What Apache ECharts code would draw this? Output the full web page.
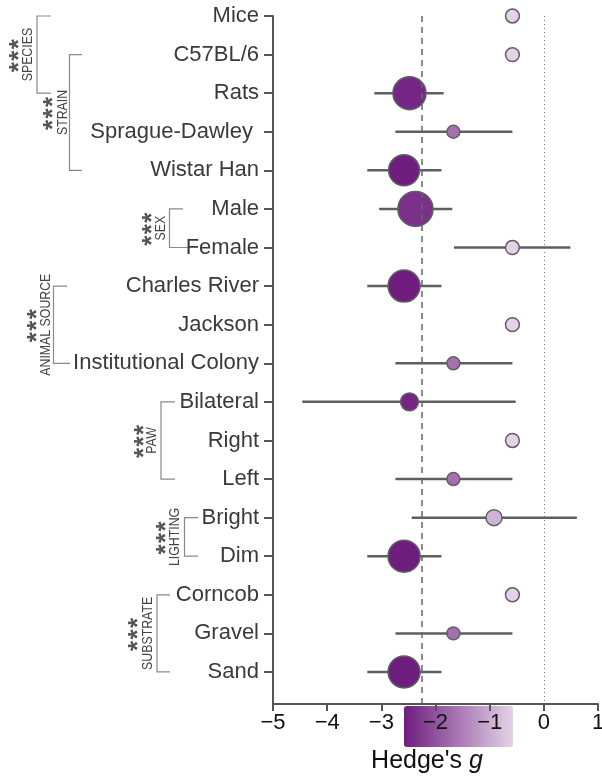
<!DOCTYPE html>
<html>
<head>
<meta charset="utf-8">
<script src="https://cdn.jsdelivr.net/npm/echarts@6/dist/echarts.min.js"></script>
<style>
html,body{margin:0;padding:0;background:#fff;}
#c{width:602px;height:781px;}
</style>
</head>
<body>
<div id="c"></div>
<script>
// ---- data ----
const categories = ['Mice','C57BL/6','Rats','Sprague\u2010Dawley\u00a0','Wistar Han','Male','Female','Charles River','Jackson','Institutional Colony','Bilateral','Right','Left','Bright','Dim','Corncob','Gravel','Sand'];
const effect = [-0.58,-0.58,-2.48,-1.67,-2.58,-2.37,-0.58,-2.58,-0.58,-1.67,-2.48,-0.58,-1.67,-0.92,-2.58,-0.58,-1.67,-2.58];
const ciLow  = [null,null,-3.13,-2.74,-3.26,-3.04,-1.66,-3.26,null,-2.74,-4.46,null,-2.74,-2.44,-3.26,null,-2.74,-3.26];
const ciHigh = [null,null,-1.85,-0.58,-1.89,-1.69,0.49,-1.89,null,-0.58,-0.52,null,-0.58,0.61,-1.89,null,-0.58,-1.89];
const weight = [12,12,68,10.5,60,77,12,64,12,10.5,20,12,10.5,16,64,12,10.5,64];
const xTicks = [-5,-4,-3,-2,-1,0,1];
const pooledEffect = -2.25;
const colorMin = -2.58, colorMax = -0.58;
const groups = [
  {name:'SPECIES', from:0, to:2, sig:'***'},
  {name:'STRAIN', from:1, to:4, sig:'***'},
  {name:'SEX', from:5, to:6, sig:'***'},
  {name:'ANIMAL SOURCE', from:7, to:9, sig:'***'},
  {name:'PAW', from:10, to:12, sig:'***'},
  {name:'LIGHTING', from:13, to:14, sig:'***'},
  {name:'SUBSTRATE', from:15, to:17, sig:'***'}
];
// ---- layout (pixel positions of bracket annotations) ----
const bracketLayout = [
  {vx:37,   armTop:51,  armBot:51,  tx:28,  sx:14},
  {vx:69.5, armTop:82,  armBot:82,  tx:63,  sx:48},
  {vx:169.5,armTop:183, armBot:188, tx:161, sx:147},
  {vx:53.5, armTop:67,  armBot:70,  tx:46,  sx:32},
  {vx:161,  armTop:175, armBot:175, tx:152, sx:139},
  {vx:184.5,armTop:198, armBot:198, tx:175, sx:161},
  {vx:157,  armTop:170, armBot:170, tx:148, sx:133}
];
const starShift = 6, starPitch = 11.5;

const FONT = '"Liberation Sans", Arial, Helvetica, sans-serif';
const chart = echarts.init(document.getElementById('c'), null, {renderer:'canvas'});
const idx = categories.map((_, i) => i);
const ciData = [];
ciLow.forEach((lo, i) => { if (lo !== null) ciData.push([lo, ciHigh[i], i]); });

chart.setOption({
  animation: false,
  grid: {left: 273, right: 4, top: 16, bottom: 77, containLabel: false, outerBoundsMode: 'none'},
  xAxis: {
    type: 'value', min: -5, max: 1, interval: 1, z: 10,
    axisLine: {show: true, onZero: false, lineStyle: {color: '#555', width: 2}},
    axisTick: {show: true, length: 7, lineStyle: {color: '#555', width: 2}},
    axisLabel: {margin: 8, fontSize: 22, fontFamily: FONT, color: '#111',
      formatter: v => v < 0 ? '\u2212' + Math.abs(v) : String(v)},
    splitLine: {show: false}
  },
  yAxis: {
    type: 'value', inverse: true, min: 0, max: 17.83,
    axisLine: {show: true, onZero: false, lineStyle: {color: '#555', width: 2}},
    axisTick: {show: true, length: 9, customValues: idx, lineStyle: {color: '#555', width: 2}},
    axisLabel: {margin: 14, fontSize: 22, fontFamily: FONT, color: '#3a3a3a',
      customValues: idx, formatter: v => categories[Math.round(v)]},
    splitLine: {show: false}
  },
  visualMap: {
    type: 'continuous', min: colorMin, max: colorMax, dimension: 0, seriesIndex: 1,
    inRange: {color: ['#6f1d7f', '#e4d3e8']},
    orient: 'horizontal', left: 404, top: 706, itemWidth: 41, itemHeight: 109,
    calculable: false, padding: 0, z: 1, hoverLink: false
  },
  series: [
    {
      type: 'custom', z: 2,
      data: ciData,
      encode: {x: [0, 1], y: 2},
      renderItem: (params, api) => {
        const p1 = api.coord([api.value(0), api.value(2)]);
        const p2 = api.coord([api.value(1), api.value(2)]);
        return {type: 'line', shape: {x1: p1[0], y1: p1[1], x2: p2[0], y2: p2[1]},
          style: {stroke: '#5d5e60', lineWidth: 2.5}};
      },
      markLine: {
        silent: true, symbol: 'none', label: {show: false},
        data: [
          {xAxis: pooledEffect, lineStyle: {color: '#666', width: 1.5, type: [6, 5]}},
          {xAxis: 0, lineStyle: {color: '#777', width: 1, type: [1, 3]}}
        ]
      }
    },
    {
      type: 'scatter', z: 3,
      data: effect.map((g, i) => [g, i, weight[i]]),
      symbolSize: v => 4 * Math.sqrt(v[2]),
      itemStyle: {opacity: 1, borderColor: '#5f6062', borderWidth: 1.5}
    }
  ]
});

// bracket annotations
const gfx = [];
groups.forEach((g, k) => {
  const L = bracketLayout[k];
  const y1 = chart.convertToPixel({yAxisIndex: 0}, g.from);
  const y2 = chart.convertToPixel({yAxisIndex: 0}, g.to);
  const ym = (y1 + y2) / 2;
  gfx.push({type: 'polyline', silent: true,
    shape: {points: [[L.armTop, y1], [L.vx, y1], [L.vx, y2], [L.armBot, y2]]},
    style: {stroke: '#8a8a8a', lineWidth: 1.2, fill: null}});
  gfx.push({type: 'text', silent: true, x: L.tx, y: ym, rotation: Math.PI / 2, scaleX: 0.88,
    style: {text: g.name, font: '14px ' + FONT, fill: '#444', align: 'center', verticalAlign: 'middle'}});
  const stars = g.sig.split('');
  stars.forEach((s, j) => {
    gfx.push({type: 'text', silent: true, x: L.sx + starShift,
      y: ym + 1 + (stars.length - 1 - j - (stars.length - 1) / 2) * starPitch, rotation: Math.PI / 2,
      style: {text: s, font: 'bold 26px ' + FONT, fill: '#555', align: 'center', verticalAlign: 'middle'}});
  });
});
gfx.push({type: 'text', silent: true, x: 427, y: 761,
  style: {text: "{n|Hedge's }{i|g}", align: 'center', verticalAlign: 'middle', fill: '#111',
    rich: {n: {font: '25px ' + FONT, fill: '#111'}, i: {font: 'italic 25px ' + FONT, fill: '#111'}}}});
chart.setOption({graphic: gfx});
</script>
</body>
</html>
